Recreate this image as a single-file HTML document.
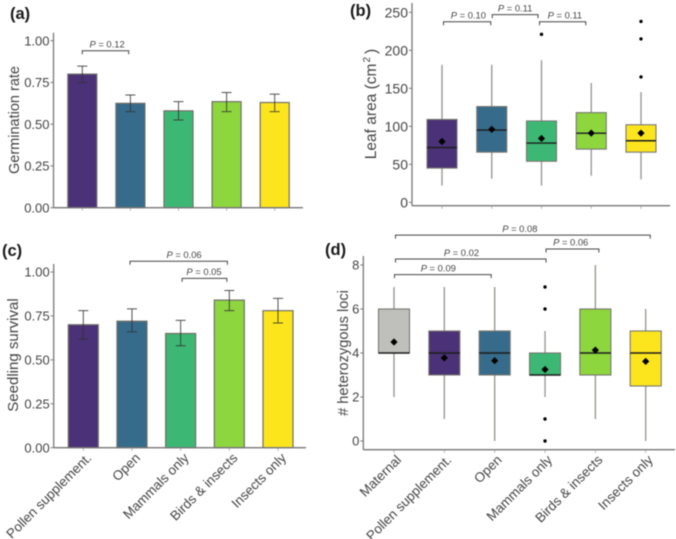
<!DOCTYPE html>
<html>
<head>
<meta charset="utf-8">
<style>
html,body{margin:0;padding:0;background:#fff;width:676px;height:539px;overflow:hidden}
svg{display:block;filter:blur(0.45px)}
text{font-family:"Liberation Sans",sans-serif}
</style>
</head>
<body>
<svg id="fig" width="676" height="539" viewBox="0 0 676 539" xmlns="http://www.w3.org/2000/svg"></svg>
<script>
// Panel (a): germination rate
const aCategories = ["Pollen supplement.", "Open", "Mammals only", "Birds & insects", "Insects only"];
const aValues = [0.80, 0.625, 0.58, 0.635, 0.63];
const aErrLow = [0.75, 0.575, 0.525, 0.575, 0.575];
const aErrHigh = [0.848, 0.675, 0.635, 0.69, 0.68];
const aTicks = ["0.00", "0.25", "0.50", "0.75", "1.00"];
const aBrFrom = [0];
const aBrTo = [0.965];
const aBrLevel = [0.94];
const aBrLabelAt = [0.515];
const aBrP = ["0.12"];

// Panel (b): leaf area
const bCategories = ["Pollen supplement.", "Open", "Mammals only", "Birds & insects", "Insects only"];
const bLow = [22, 31, 22, 35, 30];
const bQ1 = [45, 66, 54, 70, 66];
const bMedian = [72, 95, 78, 91, 81];
const bQ3 = [109, 126, 107, 118, 102];
const bHigh = [181, 181, 187, 157, 145];
const bMean = [80, 96, 84, 91, 91];
const bOutliers = [[], [], [221], [], [165, 215, 238]];
const bTicks = ["0", "50", "100", "150", "200", "250"];
const bBrFrom = [0.03, 1.01, 1.96];
const bBrTo = [0.98, 1.93, 2.89];
const bBrLevel = [237.6, 247, 237.6];
const bBrLabelAt = [0.53, 1.47, 2.47];
const bBrP = ["0.10", "0.11", "0.11"];

// Panel (c): seedling survival
const cCategories = ["Pollen supplement.", "Open", "Mammals only", "Birds & insects", "Insects only"];
const cValues = [0.70, 0.72, 0.65, 0.84, 0.78];
const cErrLow = [0.617, 0.66, 0.58, 0.78, 0.71];
const cErrHigh = [0.78, 0.79, 0.725, 0.895, 0.85];
const cTicks = ["0.00", "0.25", "0.50", "0.75", "1.00"];
const cBrFrom = [0.96, 2.03];
const cBrTo = [2.96, 2.95];
const cBrLevel = [1.061, 0.964];
const cBrLabelAt = [2.07, 2.48];
const cBrP = ["0.06", "0.05"];

// Panel (d): heterozygous loci
const dCategories = ["Maternal", "Pollen supplement.", "Open", "Mammals only", "Birds & insects", "Insects only"];
const dLow = [2, 1, 0, 2, 1, 0];
const dQ1 = [4, 3, 3, 3, 3, 2.5];
const dMedian = [4, 4, 4, 3, 4, 4];
const dQ3 = [6, 5, 5, 4, 6, 5];
const dHigh = [7, 7, 7, 5, 8, 6];
const dMean = [4.5, 3.78, 3.65, 3.25, 4.13, 3.62];
const dOutliers = [[], [], [], [0, 1, 6, 7], [], []];
const dTicks = ["0", "2", "4", "6", "8"];
const dBrFrom = [0.03, 0.03, 0.01, 3.02];
const dBrTo = [5.09, 3.02, 1.93, 4.07];
const dBrLevel = [9.36, 8.27, 7.56, 8.73];
const dBrLabelAt = [2.5, 1.34, 0.88, 3.51];
const dBrP = ["0.08", "0.02", "0.09", "0.06"];

const PURPLE = "#4b3177", BLUE = "#366b8b", GREEN = "#3cb874", LIME = "#8dd63e", YELLOW = "#fde51d", GREY = "#bfc0bc";
const fiveColors = [PURPLE, BLUE, GREEN, LIME, YELLOW];
const sixColors = [GREY, PURPLE, BLUE, GREEN, LIME, YELLOW];

const NS = "http://www.w3.org/2000/svg";
const fig = document.getElementById("fig");

function el(tag, attrs, parent) {
  const n = document.createElementNS(NS, tag);
  for (const k in attrs) n.setAttribute(k, attrs[k]);
  parent.appendChild(n);
  return n;
}

function makeScale(v0, p0, v1, p1) {
  return function (v) { return p0 + (v - v0) * (p1 - p0) / (v1 - v0); };
}

function drawAxes(g, geo, x, y, ticks, cats, showLabels, labelDx) {
  const yAxis = el("line", {x1: geo.axisX, x2: geo.axisX, y1: geo.top, y2: geo.axisY, stroke: "#777", "stroke-width": 1.3}, g);
  
  
  const xAxis = el("line", {x1: geo.axisX, x2: geo.right, y1: geo.axisY, y2: geo.axisY, stroke: "#777", "stroke-width": 1.3}, g);
  
  
  ticks.forEach(function (t) {
    const py = y(parseFloat(t));
    const tk = el("line", {x1: geo.axisX - 3, x2: geo.axisX, y1: py, y2: py, stroke: "#777", "stroke-width": 1}, g);
    
    
    const lb = el("text", {x: geo.axisX - 4, y: py + geo.tickSize * 0.36, "text-anchor": "end", "font-size": geo.tickSize, fill: "#444"}, g);
    
    
    lb.textContent = t;
  });
  cats.forEach(function (c, i) {
    const px = x(i);
    const tk = el("line", {x1: px, x2: px, y1: geo.axisY, y2: geo.axisY + 3, stroke: "#999", "stroke-width": 0.8}, g);
    
    
    if (showLabels) {
      const ax = px + labelDx, ay = geo.axisY + 11;
      const lb = el("text", {x: ax, y: ay, "text-anchor": "end", "font-size": 13.4, fill: "#444", transform: "rotate(-45 " + ax + " " + ay + ")"}, g);
      
      
      lb.textContent = c;
    }
  });
}

function drawBars(g, x, y, width, values, low, high, colors) {
  values.forEach(function (v, i) {
    const bar = el("rect", {x: x(i) - width / 2, y: y(v), width: width, height: y(0) - y(v), fill: colors[i], stroke: "#706f68", "stroke-width": 1.2}, g);
    
    
  });
  values.forEach(function (v, i) {
    const e = el("path", {
      d: "M" + (x(i) - 5) + " " + y(high[i]) + "H" + (x(i) + 5) + "M" + x(i) + " " + y(high[i]) + "V" + y(low[i]) + "M" + (x(i) - 5) + " " + y(low[i]) + "H" + (x(i) + 5),
      fill: "none", stroke: "#333", "stroke-opacity": 0.85, "stroke-width": 1
    }, g);
    
    
  });
}

function drawBoxes(g, x, y, width, low, q1, med, q3, high, mean, outliers, colors) {
  low.forEach(function (v, i) {
    const w = el("line", {x1: x(i), x2: x(i), y1: y(high[i]), y2: y(low[i]), stroke: "#999993", "stroke-width": 1.4}, g);
    
    
    const b = el("rect", {x: x(i) - width / 2, y: y(q3[i]), width: width, height: y(q1[i]) - y(q3[i]), fill: colors[i], stroke: "#777770", "stroke-width": 1.1}, g);
    
    
    const m = el("line", {x1: x(i) - width / 2, x2: x(i) + width / 2, y1: y(med[i]), y2: y(med[i]), stroke: "#1c1c1c", "stroke-width": 1.4}, g);
    
    
    const px = x(i), py = y(mean[i]);
    const d = el("polygon", {points: (px - 3.6) + "," + py + " " + px + "," + (py - 3.6) + " " + (px + 3.6) + "," + py + " " + px + "," + (py + 3.6), fill: "#000"}, g);
    
    
    outliers[i].forEach(function (o) {
      const c = el("circle", {cx: x(i), cy: y(o), r: 1.7, fill: "#000"}, g);
      
      
    });
  });
}

function drawBrackets(g, x, y, from, to, level, labelAt, pvals) {
  from.forEach(function (f, i) {
    const x1 = x(f), x2 = x(to[i]), py = y(level[i]);
    const b = el("path", {d: "M" + x1 + " " + (py + 3.5) + "V" + py + "H" + x2 + "V" + (py + 3.5), fill: "none", stroke: "#444", "stroke-width": 1}, g);
    
    
    const t = el("text", {x: x(labelAt[i]), y: py - 3.2, "text-anchor": "middle", "font-size": 9.4, fill: "#444"}, g);
    
    
    const p = el("tspan", {"font-style": "italic"}, t);
    p.textContent = "P";
    const rest = el("tspan", {}, t);
    rest.textContent = " = " + pvals[i];
  });
}

function axisTitle(g, cx, cy, size, content, name) {
  const t = el("text", {x: cx, y: cy, "text-anchor": "middle", "font-size": size, fill: "#444", transform: "rotate(-90 " + cx + " " + cy + ")"}, g);
  
  
  t.textContent = content;
  return t;
}

function panelLabel(px, py, content, name) {
  const t = el("text", {x: px, y: py, "font-size": 16.5, "font-weight": "bold", fill: "#1a1a1a"}, fig);
  
  
  t.textContent = content;
}

// ---- Panel a ----
(function () {
  const g = el("g", {}, fig);
  
  
  const geo = {axisX: 53.5, axisY: 207.7, top: 32.7, right: 303, tickSize: 13};
  const y = makeScale(0, 207.7, 1, 40.7);
  const x = makeScale(0, 82.3, 4, 274.7);
  drawBars(g, x, y, 29, aValues, aErrLow, aErrHigh, fiveColors);
  drawAxes(g, geo, x, y, aTicks, aCategories, false, 0);
  drawBrackets(g, x, y, aBrFrom, aBrTo, aBrLevel, aBrLabelAt, aBrP);
  axisTitle(g, 19, 120, 14.5, "Germination rate", "y-axis-title");
})();

// ---- Panel b ----
(function () {
  const g = el("g", {}, fig);
  
  
  const geo = {axisX: 412, axisY: 205.7, top: 3, right: 670, tickSize: 14};
  const y = makeScale(0, 202.3, 250, 12.3);
  const x = makeScale(0, 442, 4, 641);
  drawBoxes(g, x, y, 30, bLow, bQ1, bMedian, bQ3, bHigh, bMean, bOutliers, fiveColors);
  drawAxes(g, geo, x, y, bTicks, bCategories, false, 0);
  drawBrackets(g, x, y, bBrFrom, bBrTo, bBrLevel, bBrLabelAt, bBrP);
  const t = axisTitle(g, 376, 104, 15.5, "Leaf area (cm", "y-axis-title");
  const sup = el("tspan", {"font-size": 10, dy: -6, dx: 1}, t);
  sup.textContent = "2";
  const close = el("tspan", {dy: 6, dx: 3}, t);
  close.textContent = ")";
})();

// ---- Panel c ----
(function () {
  const g = el("g", {}, fig);
  
  
  const geo = {axisX: 53.7, axisY: 447.7, top: 264, right: 306, tickSize: 13};
  const y = makeScale(0, 447.7, 1, 272);
  const x = makeScale(0, 83.3, 4, 278);
  drawBars(g, x, y, 30, cValues, cErrLow, cErrHigh, fiveColors);
  drawAxes(g, geo, x, y, cTicks, cCategories, true, 9);
  drawBrackets(g, x, y, cBrFrom, cBrTo, cBrLevel, cBrLabelAt, cBrP);
  axisTitle(g, 18, 355, 15, "Seedling survival", "y-axis-title");
})();

// ---- Panel d ----
(function () {
  const g = el("g", {}, fig);
  
  
  const geo = {axisX: 363.3, axisY: 449.7, top: 256, right: 675, tickSize: 13};
  const y = makeScale(0, 441, 8, 265);
  const x = makeScale(0, 394, 5, 645.7);
  drawBoxes(g, x, y, 31, dLow, dQ1, dMedian, dQ3, dHigh, dMean, dOutliers, sixColors);
  drawAxes(g, geo, x, y, dTicks, dCategories, true, 8);
  drawBrackets(g, x, y, dBrFrom, dBrTo, dBrLevel, dBrLabelAt, dBrP);
  axisTitle(g, 348, 353, 14.6, "# heterozygous loci", "y-axis-title");
})();

panelLabel(10, 19, "(a)", "panel-label-a");
panelLabel(350, 16, "(b)", "panel-label-b");
panelLabel(2, 256, "(c)", "panel-label-c");
panelLabel(325, 255, "(d)", "panel-label-d");
</script>
</body>
</html>
